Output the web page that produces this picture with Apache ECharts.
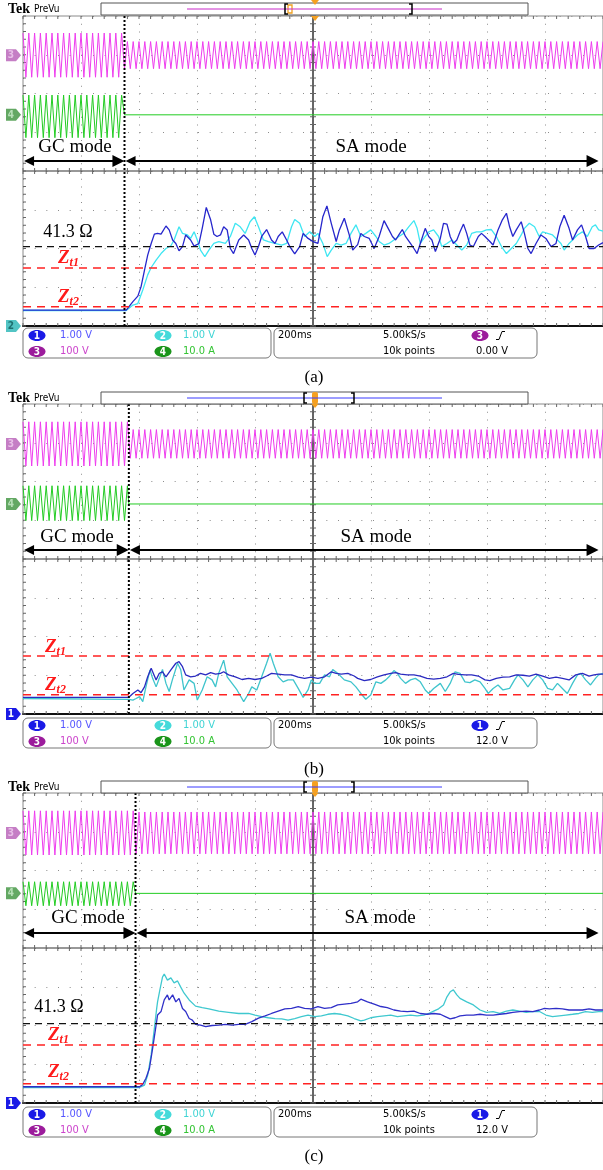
<!DOCTYPE html>
<html><head><meta charset="utf-8">
<script src="https://cdn.jsdelivr.net/npm/echarts/dist/echarts.min.js"></script>
<style>html,body{margin:0;padding:0;background:#fff}#c{width:603px;height:1170px}</style>
</head><body><div id="c"></div>
<script>
// ================= DATA =================
// time in ms (200 ms/div, trigger at 0), amplitude in screen divisions
const timeRangeMs = [-1000, 1000];
const divRange = [-4, 4];
const panelNames = ['(a)', '(b)', '(c)'];
const switchTimeMs = [-650, -635, -612];          // GC -> SA transition
const lineFreqHz = 50;
// channel 3 (voltage, magenta) envelope
const pinkOffsetDiv = [2.99, 2.97, 2.97];
const pinkAmpGC = [0.57, 0.57, 0.57];
const pinkAmpSA = [0.35, 0.37, 0.54];
// channel 4 (current, green) envelope
const greenOffsetDiv = [1.41, 1.44, 1.40];
const greenFlatSA = [1.45, 1.42, 1.41];
const greenAmpGC = [0.55, 0.45, 0.31];
// reference levels
const levelLabels = ['41.3 Ω', 'Zt1', 'Zt2'];
const levelsDiv = [-1.95, -2.5, -3.5];
const showNominal = [true, false, true];
// status bar
const chScaleText = ['1.00 V', '1.00 V', '100 V', '10.0 A'];
const timebaseText = '200ms';
const sampleRateText = '5.00kS/s';
const recordText = '10k points';
const trigChannel = ['3', '1', '1'];
const trigLevelText = ['0.00 V', '12.0 V', '12.0 V'];

// channel 1 (blue) and channel 2 (cyan) traces: [time ms, divisions]
const blueA = [[-1000,-3.59],[-644,-3.59],[-621,-3.37],[-604,-3.23],[-593,-2.99],[-581,-2.56],[-570,-2.17],[-558,-1.87],[-547,-1.63],[-536,-1.61],[-524,-1.63],[-507,-1.42],[-496,-1.52],[-484,-1.78],[-473,-1.87],[-462,-2.06],[-450,-1.95],[-439,-1.65],[-422,-1.78],[-410,-1.94],[-393,-1.87],[-382,-1.48],[-368,-0.94],[-353,-1.26],[-342,-1.63],[-331,-1.69],[-319,-1.65],[-308,-1.44],[-296,-1.52],[-285,-2.00],[-274,-2.13],[-256,-1.78],[-239,-1.65],[-222,-1.78],[-211,-2.00],[-200,-2.17],[-188,-1.95],[-177,-1.69],[-160,-1.51],[-143,-1.78],[-131,-1.87],[-120,-1.69],[-106,-1.57],[-91,-1.78],[-80,-1.95],[-63,-2.14],[-46,-1.95],[-34,-1.61],[-17,-1.74],[0,-1.82],[17,-1.87],[34,-1.18],[48,-0.90],[63,-1.35],[80,-1.82],[91,-1.52],[108,-1.22],[125,-1.65],[137,-2.04],[154,-1.90],[165,-1.61],[177,-1.69],[194,-1.74],[211,-2.00],[228,-1.69],[245,-1.28],[262,-1.52],[274,-1.69],[285,-1.78],[296,-1.65],[308,-1.51],[319,-1.69],[336,-1.87],[348,-2.00],[359,-2.13],[370,-1.87],[387,-1.48],[399,-1.69],[410,-1.78],[422,-2.08],[439,-1.74],[450,-1.35],[462,-1.37],[473,-1.69],[484,-1.87],[496,-1.78],[507,-1.57],[519,-1.37],[530,-1.61],[541,-1.91],[553,-1.95],[570,-1.69],[581,-1.61],[593,-1.69],[610,-1.82],[621,-1.91],[638,-1.52],[653,-1.26],[667,-1.09],[678,-1.44],[689,-1.69],[701,-1.52],[718,-1.31],[729,-1.61],[741,-2.00],[752,-2.13],[769,-1.87],[786,-1.65],[803,-1.74],[821,-1.95],[838,-1.87],[851,-1.44],[866,-1.14],[883,-1.48],[895,-1.78],[912,-1.52],[926,-1.39],[940,-1.69],[952,-2.00],[969,-2.00],[985,-1.91],[1000,-1.85]];
const cyanA = [[-1000,-3.60],[-644,-3.60],[-621,-3.46],[-604,-3.42],[-587,-3.07],[-570,-2.68],[-558,-2.49],[-541,-2.30],[-524,-2.13],[-507,-2.00],[-490,-1.93],[-479,-1.78],[-462,-1.44],[-450,-1.61],[-433,-1.65],[-422,-1.74],[-410,-1.57],[-399,-1.78],[-388,-2.04],[-373,-2.21],[-359,-2.04],[-342,-1.87],[-325,-1.82],[-302,-1.87],[-285,-1.69],[-268,-1.35],[-251,-1.44],[-234,-1.61],[-217,-1.31],[-202,-1.18],[-188,-1.44],[-171,-1.78],[-154,-1.82],[-131,-1.87],[-108,-1.91],[-91,-1.87],[-74,-1.44],[-63,-1.25],[-46,-1.35],[-29,-1.69],[-11,-1.57],[6,-1.69],[17,-1.61],[34,-1.87],[49,-2.21],[63,-2.04],[80,-1.87],[97,-1.91],[114,-1.87],[131,-1.61],[148,-1.39],[165,-1.69],[182,-1.61],[199,-1.52],[217,-1.69],[228,-1.82],[245,-1.91],[262,-1.87],[279,-1.78],[296,-1.69],[313,-1.61],[330,-1.44],[348,-1.28],[359,-1.48],[370,-1.87],[387,-1.69],[399,-1.57],[416,-1.52],[433,-1.69],[444,-1.95],[462,-1.87],[479,-1.78],[496,-1.91],[513,-2.04],[530,-1.91],[547,-1.61],[564,-1.57],[581,-1.57],[598,-1.52],[615,-1.51],[632,-1.69],[650,-1.95],[667,-2.13],[684,-2.00],[701,-1.87],[718,-1.65],[729,-1.48],[746,-1.35],[764,-1.44],[780,-1.69],[792,-1.57],[809,-1.61],[826,-1.65],[838,-1.74],[855,-1.87],[866,-2.04],[883,-1.87],[900,-1.74],[912,-1.65],[929,-1.57],[946,-1.69],[963,-1.44],[974,-1.39],[985,-1.52],[1000,-1.55]];
const blueB = [[-1000,-3.57],[-635,-3.57],[-621,-3.47],[-604,-3.38],[-593,-3.45],[-581,-3.30],[-570,-3.04],[-558,-2.82],[-553,-2.78],[-541,-3.12],[-530,-2.95],[-519,-2.91],[-507,-3.04],[-490,-2.86],[-473,-2.69],[-462,-2.65],[-450,-2.78],[-439,-2.99],[-422,-3.04],[-405,-3.02],[-388,-2.95],[-370,-2.99],[-353,-2.93],[-336,-2.97],[-319,-2.95],[-308,-2.91],[-291,-2.99],[-268,-3.04],[-245,-3.11],[-222,-3.08],[-200,-3.11],[-177,-3.08],[-160,-3.02],[-143,-2.95],[-120,-2.97],[-97,-2.99],[-74,-2.99],[-51,-3.05],[-29,-3.08],[-6,-3.05],[17,-3.08],[40,-3.04],[63,-2.91],[80,-2.95],[97,-2.97],[120,-2.95],[142,-3.02],[154,-3.08],[177,-3.14],[199,-3.11],[222,-3.04],[245,-2.99],[268,-2.95],[285,-2.93],[302,-2.97],[325,-2.99],[348,-2.99],[370,-3.02],[393,-3.08],[416,-3.10],[439,-3.08],[462,-3.04],[484,-2.95],[501,-2.98],[524,-2.99],[547,-2.99],[570,-3.02],[593,-3.12],[610,-3.14],[632,-3.08],[655,-3.05],[678,-3.04],[701,-2.99],[724,-3.00],[746,-3.02],[769,-2.97],[792,-3.02],[815,-3.08],[838,-3.05],[860,-3.08],[883,-3.12],[906,-2.99],[929,-2.95],[952,-3.02],[969,-2.99],[985,-2.97],[1000,-2.97]];
const cyanB = [[-1000,-3.60],[-635,-3.62],[-621,-3.64],[-610,-3.60],[-598,-3.55],[-587,-3.68],[-576,-3.30],[-562,-2.86],[-553,-3.08],[-541,-3.30],[-530,-3.08],[-519,-2.85],[-507,-3.21],[-496,-3.42],[-485,-3.12],[-467,-2.69],[-456,-2.86],[-445,-3.38],[-427,-3.12],[-410,-3.21],[-399,-3.64],[-382,-3.38],[-365,-3.04],[-348,-3.12],[-336,-3.30],[-325,-2.95],[-308,-2.61],[-296,-3.04],[-279,-3.21],[-262,-3.38],[-239,-3.68],[-222,-3.47],[-211,-3.30],[-194,-3.38],[-177,-3.04],[-160,-2.69],[-148,-2.43],[-137,-2.69],[-120,-3.04],[-103,-3.17],[-86,-3.12],[-68,-3.12],[-51,-3.34],[-34,-3.57],[-17,-3.38],[-6,-3.12],[6,-3.21],[23,-3.21],[40,-2.99],[57,-3.04],[68,-2.85],[85,-2.95],[108,-3.12],[131,-3.17],[148,-3.30],[165,-3.47],[182,-3.62],[199,-3.51],[217,-3.17],[234,-3.21],[251,-3.12],[262,-3.04],[279,-2.88],[291,-2.95],[302,-3.08],[319,-3.21],[336,-3.12],[353,-3.08],[370,-3.17],[387,-3.38],[399,-3.47],[416,-3.34],[439,-3.21],[456,-3.42],[473,-3.21],[490,-2.91],[507,-2.95],[524,-3.17],[541,-3.19],[558,-3.12],[576,-3.17],[593,-3.34],[604,-3.47],[621,-3.34],[638,-3.25],[655,-3.38],[678,-3.34],[695,-3.12],[707,-2.99],[724,-3.12],[741,-3.30],[758,-3.12],[775,-2.99],[792,-3.12],[809,-3.34],[826,-3.38],[843,-3.21],[860,-3.34],[877,-3.47],[895,-3.21],[912,-2.99],[923,-2.95],[940,-3.12],[957,-3.25],[974,-3.08],[985,-2.99],[1000,-2.95]];
const blueC = [[-1000,-3.58],[-598,-3.58],[-587,-3.52],[-576,-3.36],[-564,-3.11],[-553,-2.59],[-541,-1.99],[-536,-1.73],[-524,-1.64],[-513,-1.34],[-502,-1.21],[-496,-1.34],[-484,-1.21],[-473,-1.39],[-462,-1.30],[-450,-1.56],[-439,-1.64],[-427,-1.82],[-416,-1.86],[-405,-1.97],[-388,-1.99],[-370,-2.03],[-348,-2.00],[-325,-1.99],[-302,-1.97],[-279,-1.99],[-256,-1.97],[-234,-1.97],[-211,-1.90],[-188,-1.81],[-165,-1.75],[-143,-1.69],[-120,-1.63],[-97,-1.57],[-74,-1.56],[-51,-1.51],[-29,-1.56],[-6,-1.57],[17,-1.51],[40,-1.56],[63,-1.54],[85,-1.47],[108,-1.45],[131,-1.43],[154,-1.39],[165,-1.32],[188,-1.39],[211,-1.45],[234,-1.51],[256,-1.54],[279,-1.60],[302,-1.63],[325,-1.64],[348,-1.63],[370,-1.69],[393,-1.71],[416,-1.69],[439,-1.71],[456,-1.77],[473,-1.83],[490,-1.80],[507,-1.75],[530,-1.73],[553,-1.73],[576,-1.71],[598,-1.73],[621,-1.73],[644,-1.71],[667,-1.69],[689,-1.66],[712,-1.64],[735,-1.63],[758,-1.64],[781,-1.60],[798,-1.56],[815,-1.57],[838,-1.56],[860,-1.57],[883,-1.60],[906,-1.60],[929,-1.60],[952,-1.57],[974,-1.60],[1000,-1.60]];
const cyanC = [[-1000,-3.60],[-598,-3.60],[-581,-3.54],[-570,-3.28],[-558,-2.76],[-547,-2.07],[-539,-1.56],[-536,-1.39],[-528,-1.08],[-519,-0.75],[-513,-0.67],[-502,-0.83],[-490,-0.77],[-479,-0.90],[-467,-0.85],[-456,-1.01],[-445,-1.16],[-427,-1.34],[-405,-1.50],[-382,-1.54],[-359,-1.57],[-325,-1.63],[-291,-1.66],[-256,-1.69],[-222,-1.69],[-200,-1.73],[-177,-1.77],[-154,-1.80],[-131,-1.82],[-108,-1.83],[-86,-1.86],[-63,-1.82],[-40,-1.77],[-17,-1.73],[6,-1.77],[29,-1.75],[51,-1.71],[74,-1.69],[97,-1.71],[120,-1.75],[142,-1.82],[165,-1.88],[177,-1.86],[199,-1.80],[222,-1.77],[245,-1.75],[268,-1.73],[291,-1.77],[313,-1.75],[336,-1.73],[359,-1.75],[382,-1.73],[399,-1.69],[416,-1.63],[433,-1.57],[450,-1.47],[462,-1.26],[473,-1.13],[484,-1.08],[496,-1.21],[507,-1.30],[530,-1.39],[553,-1.47],[576,-1.60],[598,-1.66],[621,-1.64],[644,-1.69],[667,-1.63],[689,-1.60],[712,-1.63],[735,-1.66],[758,-1.64],[781,-1.64],[803,-1.73],[826,-1.77],[849,-1.75],[872,-1.73],[895,-1.71],[917,-1.69],[940,-1.64],[963,-1.66],[985,-1.64],[1000,-1.64]];
const blueTraces = [blueA, blueB, blueC];
const cyanTraces = [cyanA, cyanB, cyanC];

// ================= LAYOUT / STYLE =================
const SERIF = "'Liberation Serif','Times New Roman',serif";
const SANS = "'Liberation Sans Narrow','DejaVu Sans Condensed','Arial Narrow',sans-serif";
const gridTop = [16, 404, 793], gridLeft = 23, gridW = 583.3, gridH = 310;
const headerY = [9, 398, 787];
const statusTop = [328, 718, 1107];
const captionY = [378, 770, 1157];
const transitionTop = [4.28, 4.0, 4.26];
const arrowLevel = [0.26, 0.23, 0.39];
const blueColor = ['#2626cc', '#2a2ac0', '#2f2fc8'];
const cyanColor = ['#3fe6f2', '#3fc4cc', '#3fc8cf'];

function carrier(offset, ampGC, ampSA, tsw, flat) {
  const half = 1000 / lineFreqHz / 2;
  const pts = [];
  let k = 0;
  for (let t = timeRangeMs[0]; t <= timeRangeMs[1] + 1e-9; t += half, k++) {
    if (ampSA === null && t >= tsw) break;
    const a = t < tsw ? ampGC : ampSA;
    pts.push([t, offset + (k % 2 === 0 ? a : -a)]);
  }
  if (ampSA === null) { pts.push([tsw, flat]); pts.push([timeRangeMs[1], flat]); }
  return pts;
}

function tickSeries(i) {
  return {
    type: 'custom', xAxisIndex: i, yAxisIndex: i, data: [[0, 0]], silent: true, z: 2, clip: false,
    renderItem: function (params, api) {
      const ch = [];
      const c = api.coord([0, 0]);
      const bl = api.coord([timeRangeMs[0], divRange[0]]);
      const tr = api.coord([timeRangeMs[1], divRange[1]]);
      const s = { stroke: '#666', lineWidth: 1 };
      const L = (x1, y1, x2, y2, st) => ch.push({ type: 'line', shape: { x1, y1, x2, y2 }, style: st || s });
      L(bl[0], c[1], tr[0], c[1], { stroke: '#333', lineWidth: 1.2 });
      L(c[0], bl[1], c[0], tr[1], { stroke: '#333', lineWidth: 1.5 });
      for (let t = timeRangeMs[0]; t <= timeRangeMs[1]; t += 40) {
        const x = api.coord([t, 0])[0];
        L(x, c[1] - 3, x, c[1] + 3); L(x, tr[1], x, tr[1] + 3); L(x, bl[1] - 3, x, bl[1]);
      }
      for (let n = 0; n <= 40; n++) {
        const y = api.coord([0, divRange[0] + n * 0.2])[1];
        L(c[0] - 3, y, c[0] + 3, y); L(bl[0], y, bl[0] + 3, y);
      }
      return { type: 'group', children: ch };
    }
  };
}

const grids = [], xAxes = [], yAxes = [], series = [];
for (let i = 0; i < 3; i++) {
  grids.push({ left: gridLeft, top: gridTop[i], width: gridW, height: gridH, show: true, borderColor: '#8a8a8a', borderWidth: 1, backgroundColor: '#fff' });
  xAxes.push({ gridIndex: i, type: 'value', min: timeRangeMs[0], max: timeRangeMs[1], interval: 200,
    axisLine: { show: true, onZero: false, lineStyle: { color: '#111', width: 2 } }, axisTick: { show: false }, axisLabel: { show: false },
    splitLine: { show: true, lineStyle: { color: '#8c8c8c', width: 1, type: [1, 6.75] } } });
  yAxes.push({ gridIndex: i, type: 'value', min: divRange[0], max: divRange[1], interval: 1,
    axisLine: { show: false }, axisTick: { show: false }, axisLabel: { show: false },
    splitLine: { show: true, lineStyle: { color: '#8c8c8c', width: 1, type: [1, 10.667] } } });

  const base = { type: 'line', xAxisIndex: i, yAxisIndex: i, symbol: 'none', showSymbol: false, silent: true, animation: false };
  const tsw = switchTimeMs[i];
  series.push(tickSeries(i));
  series.push(Object.assign({}, base, { z: 3, data: carrier(pinkOffsetDiv[i], pinkAmpGC[i], pinkAmpSA[i], tsw), lineStyle: { color: '#ee3cee', width: 1 } }));
  series.push(Object.assign({}, base, { z: 3, data: carrier(greenOffsetDiv[i], greenAmpGC[i], null, tsw, greenFlatSA[i]), lineStyle: { color: '#22cc22', width: 1 } }));
  series.push(Object.assign({}, base, { z: 4, data: cyanTraces[i], lineStyle: { color: cyanColor[i], width: 1.3 } }));
  series.push(Object.assign({}, base, { z: 5, data: blueTraces[i], lineStyle: { color: blueColor[i], width: 1.3 } }));
  levelsDiv.forEach((lv, j) => {
    if (j === 0 && !showNominal[i]) return;
    series.push(Object.assign({}, base, { z: 6, data: [[timeRangeMs[0], lv], [timeRangeMs[1], lv]],
      lineStyle: j === 0 ? { color: '#111', width: 1.3, type: [7, 5] } : { color: '#ff2222', width: 1.5, type: [8, 6] } }));
  });
  series.push(Object.assign({}, base, { z: 7, clip: false, data: [[tsw, divRange[0]], [tsw, transitionTop[i]]],
    lineStyle: { color: '#000', width: 2, type: [2, 2] } }));
  const ay = arrowLevel[i];
  series.push({ type: 'lines', coordinateSystem: 'cartesian2d', xAxisIndex: i, yAxisIndex: i, silent: true, z: 8,
    symbol: ['triangle', 'triangle'], symbolSize: [10, 12],
    lineStyle: { color: '#000', width: 2, opacity: 1, curveness: 0 },
    data: [{ coords: [[timeRangeMs[0] + 21, ay], [tsw - 21, ay]] }, { coords: [[tsw + 21, ay], [985 - 21, ay]] }] });
}

const chart = echarts.init(document.getElementById('c'), null, { renderer: 'canvas', width: 603, height: 1170 });
chart.setOption({ animation: false, backgroundColor: '#fff', grid: grids, xAxis: xAxes, yAxis: yAxes, series: series });

// ================= DECORATIONS =================
const G = [];
function txt(x, y, text, opt) { G.push({ type: 'text', silent: true, z: 100, style: Object.assign({ x, y, text, fill: '#000', align: 'left', verticalAlign: 'middle', fontSize: 11, fontFamily: SANS }, opt || {}) }); }
function rect(x, y, w, h, st, r) { G.push({ type: 'rect', silent: true, z: 99, shape: { x, y, width: w, height: h, r: r || 0 }, style: st }); }
function poly(points, st, closed) { G.push({ type: closed ? 'polygon' : 'polyline', silent: true, z: 100, shape: { points }, style: st }); }
function ell(cx, cy, rx, ry, fill) { G.push({ type: 'ellipse', silent: true, z: 100, shape: { cx, cy, rx, ry }, style: { fill } }); }
function chip(cx, cy, n, fill) { ell(cx, cy, 8.5, 5.5, fill); txt(cx, cy + 0.5, n, { fill: '#fff', align: 'center', fontSize: 10, fontWeight: 'bold' }); }
function tag(y, n, fill, tc) {
  poly([[6, y - 6], [16, y - 6], [21, y], [16, y + 6], [6, y + 6]], { fill }, true);
  txt(11, y + 0.5, n, { fill: tc, align: 'center', fontSize: 10, fontWeight: 'bold' });
}
const ztRich = {
  z: { fontFamily: SERIF, fontSize: 19, fontWeight: 'bold', fontStyle: 'italic', fill: '#ff1a1a', color: '#ff1a1a' },
  s: { fontFamily: SERIF, fontSize: 12, fontWeight: 'bold', fontStyle: 'italic', fill: '#ff1a1a', color: '#ff1a1a', padding: [10, 0, 0, 0] }
};
const modeLabelY = [147, 537, 918], gcLabelX = [75, 77, 88], saLabelX = [371, 376, 380];
const nominalLabelPos = [[68, 232], null, [59, 1007]];
const zt1Pos = [[58, 258], [45, 647], [48, 1035]];
const zt2Pos = [[58, 297], [45, 685], [48, 1072]];
const barLineColor = ['#c828c8', '#3a3aff', '#3a3aff'];
const bracketX = [[285, 412], [304, 354], [304, 354]];

for (let i = 0; i < 3; i++) {
  const hy = headerY[i];
  // header
  txt(8, hy, 'Tek', { fontFamily: SERIF, fontSize: 14, fontWeight: 'bold' });
  txt(34, hy + 0.5, 'PreVu', { fontSize: 10 });
  rect(101, hy - 6, 427, 12, { fill: '#fff', stroke: '#555', lineWidth: 1 });
  poly([[187, hy], [442, hy]], { stroke: barLineColor[i], lineWidth: 1 });
  const [b1, b2] = bracketX[i];
  poly([[b1 + 3, hy - 5], [b1, hy - 5], [b1, hy + 5], [b1 + 3, hy + 5]], { stroke: '#000', lineWidth: 1.5, fill: null });
  poly([[b2 - 3, hy - 5], [b2, hy - 5], [b2, hy + 5], [b2 - 3, hy + 5]], { stroke: '#000', lineWidth: 1.5, fill: null });
  if (i === 0) {
    rect(288, hy - 4, 4, 8, { fill: null, stroke: '#f0a020', lineWidth: 1.3 });
    poly([[311, 0], [319, 0], [315, 5]], { fill: '#f5a020' }, true);
    poly([[311, 16], [319, 16], [315, 21]], { fill: '#f5a020' }, true);
  } else {
    rect(312, hy - 6, 6, 12, { fill: '#f5a020' }, 2);
    poly([[311.5, hy + 6], [318.5, hy + 6], [315, hy + 10]], { fill: '#f5a020' }, true);
  }
  // text annotations
  txt(gcLabelX[i], modeLabelY[i], 'GC mode', { fontFamily: SERIF, fontSize: 19, align: 'center' });
  txt(saLabelX[i], modeLabelY[i], 'SA mode', { fontFamily: SERIF, fontSize: 19, align: 'center' });
  if (nominalLabelPos[i]) txt(nominalLabelPos[i][0], nominalLabelPos[i][1], levelLabels[0], { fontFamily: SERIF, fontSize: 18, align: 'center' });
  G.push({ type: 'text', silent: true, z: 100, style: { x: zt1Pos[i][0], y: zt1Pos[i][1], text: '{z|Z}{s|t1}', verticalAlign: 'middle', rich: ztRich } });
  G.push({ type: 'text', silent: true, z: 100, style: { x: zt2Pos[i][0], y: zt2Pos[i][1], text: '{z|Z}{s|t2}', verticalAlign: 'middle', rich: ztRich } });
  // status bar
  const sy = statusTop[i], r1 = sy + 7.5, r2 = sy + 23.5;
  rect(23, sy, 248, 30, { fill: null, stroke: '#777', lineWidth: 1 }, 5);
  rect(274, sy, 263, 30, { fill: null, stroke: '#777', lineWidth: 1 }, 5);
  chip(37, r1, '1', '#1a1ae6'); txt(60, r1, chScaleText[0], { fill: '#5555ff' });
  chip(163, r1, '2', '#45dada'); txt(183, r1, chScaleText[1], { fill: '#3fd4d4' });
  chip(37, r2, '3', '#9c1c9c'); txt(60, r2, chScaleText[2], { fill: '#cc44cc' });
  chip(163, r2, '4', '#1a941a'); txt(183, r2, chScaleText[3], { fill: '#33c433' });
  txt(278, r1, timebaseText);
  txt(383, r1, sampleRateText);
  txt(383, r2, recordText);
  chip(480, r1, trigChannel[i], trigChannel[i] === '3' ? '#9c1c9c' : '#1a1ae6');
  poly([[496, r1 + 4], [499, r1 + 4], [502, r1 - 4], [505, r1 - 4]], { stroke: '#000', lineWidth: 1, fill: null });
  txt(476, r2, trigLevelText[i]);
  // caption
  txt(314, captionY[i], panelNames[i], { fontFamily: SERIF, fontSize: 17, align: 'center' });
  // channel tags at the left edge (positioned through the axis scale)
  const p3 = chart.convertToPixel({ gridIndex: i }, [timeRangeMs[0], pinkOffsetDiv[i]]);
  const p4 = chart.convertToPixel({ gridIndex: i }, [timeRangeMs[0], greenFlatSA[i]]);
  const pb = chart.convertToPixel({ gridIndex: i }, [timeRangeMs[0], divRange[0]]);
  tag(p3[1], '3', '#c57ec5', '#e8c0e8');
  tag(p4[1], '4', '#63a863', '#b8e0b8');
  if (i === 0) tag(pb[1], '2', '#52c4c4', '#1d6f6f'); else tag(pb[1], '1', '#1a1ae6', '#ffffff');
}
chart.setOption({ graphic: { elements: G } });
</script></body></html>
